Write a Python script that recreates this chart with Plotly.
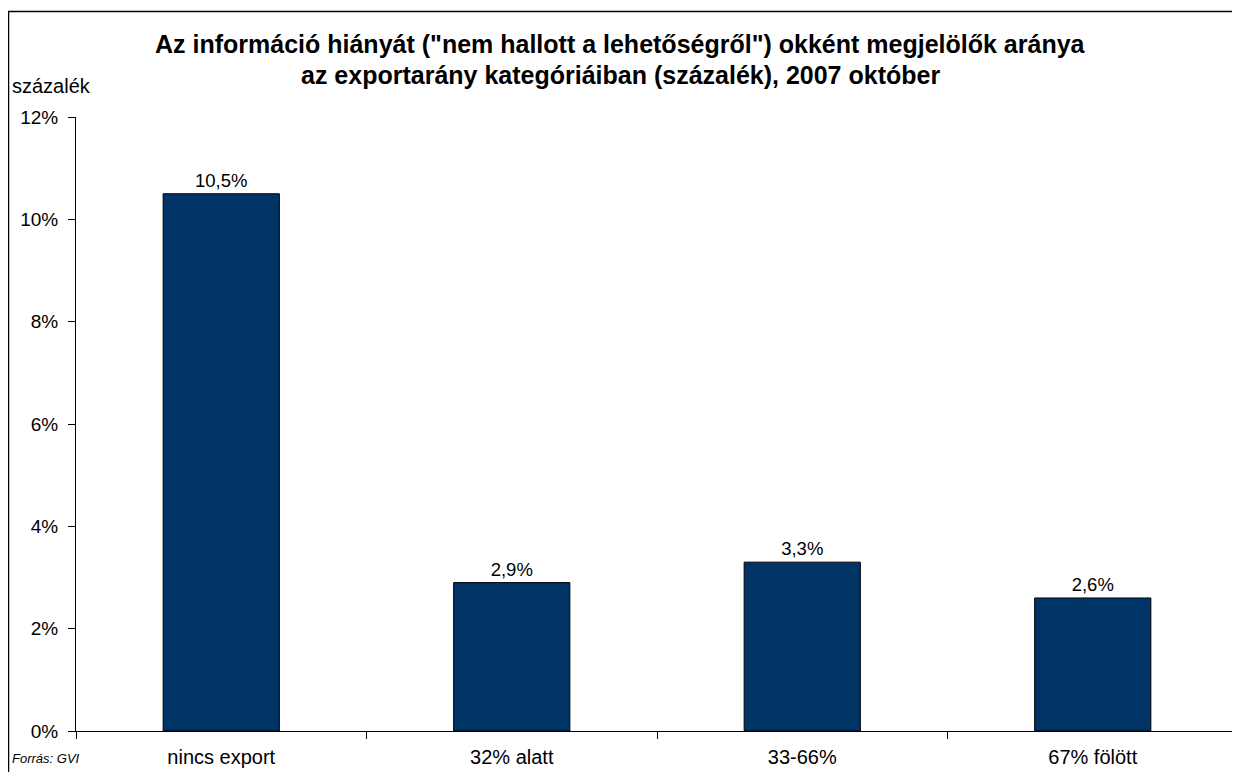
import plotly.graph_objects as go

categories = ["nincs export", "32% alatt", "33-66%", "67% fölött"]
values = [10.5, 2.9, 3.3, 2.6]
labels = ["10,5%", "2,9%", "3,3%", "2,6%"]
y_ticks = [0, 2, 4, 6, 8, 10, 12]
y_ticktext = ["0%", "2%", "4%", "6%", "8%", "10%", "12%"]

W, H = 1240, 772
OFF = 8  # page body margin offset
L, R, T, B = 76 - OFF, 10, 117 - OFF, 49
pw, ph = W - L - R, H - T - B


def px(x):
    return (x - OFF - L) / pw


def py(y):
    return (H - B - (y - OFF)) / ph


fig = go.Figure(go.Bar(
    x=categories, y=values, text=labels, textposition="outside",
    texttemplate="%{text}",
    textfont=dict(size=18.5, color="black", family="Liberation Sans, Arial"),
    marker=dict(color="#003366", line=dict(color="black", width=1)),
    cliponaxis=False, hoverinfo="skip",
))

fig.update_layout(
    width=W, height=H, margin=dict(l=L, r=R, t=T, b=B, autoexpand=False),
    paper_bgcolor="white", plot_bgcolor="white",
    font=dict(family="Liberation Sans, Arial", size=19, color="black"),
    bargap=0.6, showlegend=False,
    xaxis=dict(
        showline=True, linecolor="black", linewidth=1,
        ticks="outside", tickson="boundaries", ticklen=7, tickcolor="black",
        tickfont=dict(size=20), showgrid=False, automargin=False,
        ticklabelstandoff=8,
    ),
    yaxis=dict(
        range=[0, 12], tickvals=y_ticks, ticktext=y_ticktext,
        showline=True, linecolor="black", linewidth=1,
        ticks="outside", ticklen=7, tickcolor="black",
        tickfont=dict(size=19), showgrid=False, zeroline=False, automargin=False,
        ticklabelstandoff=6,
    ),
)

# title as two centred lines
title_lines = [
    "Az információ hiányát (\"nem hallott a lehetőségről\") okként megjelölők aránya",
    "az exportarány kategóriáiban (százalék), 2007 október",
]
for i, line in enumerate(title_lines):
    fig.add_annotation(text="<b>" + line + "</b>", xref="paper", yref="paper",
                       x=px(620), y=py(44 + 31 * i),
                       xanchor="center", yanchor="middle", showarrow=False,
                       font=dict(size=25))

# outer frame
fig.add_shape(type="rect", xref="paper", yref="paper",
              x0=px(8.5), x1=1.05, y0=-0.2, y1=py(11.5),
              line=dict(color="black", width=1.5), fillcolor="rgba(0,0,0,0)", layer="below")

fig.add_annotation(text="százalék", xref="paper", yref="paper",
                   x=px(10), y=py(86), xanchor="left", yanchor="middle",
                   showarrow=False, font=dict(size=20))
fig.add_annotation(text="<i>Forrás: GVI</i>", xref="paper", yref="paper",
                   x=px(10), y=py(758), xanchor="left", yanchor="middle",
                   showarrow=False, font=dict(size=13))

fig.write_html("out.html")
